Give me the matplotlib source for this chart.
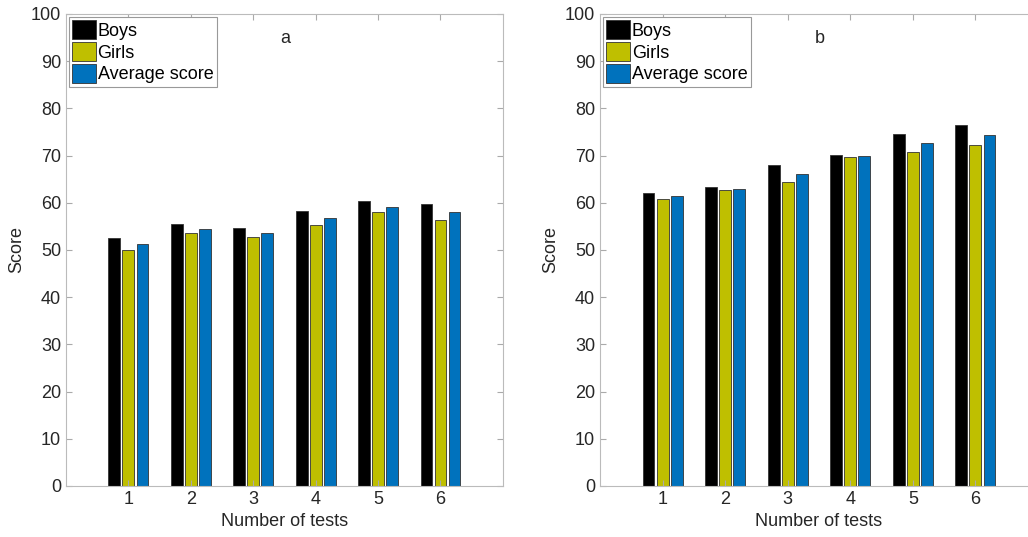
import numpy as np
import matplotlib.pyplot as plt

plt.rcParams['font.family'] = ['Liberation Sans', 'DejaVu Sans']

tests = [1, 2, 3, 4, 5, 6]

# panel a
boys_a = [52.5, 55.4, 54.6, 58.2, 60.3, 59.8]
girls_a = [49.9, 53.7, 52.8, 55.3, 58.0, 56.4]
avg_a = [51.2, 54.5, 53.7, 56.7, 59.1, 58.0]

# panel b
boys_b = [62.0, 63.3, 67.9, 70.2, 74.6, 76.4]
girls_b = [60.9, 62.7, 64.4, 69.6, 70.8, 72.3]
avg_b = [61.4, 63.0, 66.1, 69.9, 72.7, 74.3]

colors = ['#000000', '#BFBF00', '#0072BD']
names = ['Boys', 'Girls', 'Average score']
grey = '#262626'


def draw_panel(ax, series, letter):
    x = np.array(tests)
    offsets = [-0.225, 0, 0.225]
    for vals, off, c, name in zip(series, offsets, colors, names):
        ax.bar(x + off, vals, width=0.19, color=c, edgecolor='#333333',
               linewidth=0.6, label=name)
    ax.set_xlim(0, 7)
    ax.set_ylim(0, 100)
    ax.set_xticks(tests)
    ax.set_yticks(range(0, 101, 10))
    ax.tick_params(direction='in', top=True, right=True, length=4,
                   labelsize=13, colors='#aaaaaa', labelcolor=grey)
    for s in ax.spines.values():
        s.set_color('#bbbbbb')
        s.set_linewidth(0.8)
    ax.set_xlabel('Number of tests', fontsize=13, color=grey)
    ax.set_ylabel('Score', fontsize=13, color=grey)
    ax.text(3.52, 94.8, letter, fontsize=13, ha='center', va='center', color=grey)
    leg = ax.legend(loc='upper left', fontsize=13, frameon=True, fancybox=False,
                    edgecolor='#999999', framealpha=1, borderaxespad=0.15,
                    handlelength=1.3, handleheight=1.25, handletextpad=0.1,
                    labelspacing=0.12, borderpad=0.2)
    leg.get_frame().set_linewidth(0.8)


fig = plt.figure(figsize=(10.28, 5.37), dpi=100)
ax1 = fig.add_axes([0.0642, 0.095, 0.425, 0.879])
ax2 = fig.add_axes([0.5837, 0.095, 0.426, 0.879])

draw_panel(ax1, [boys_a, girls_a, avg_a], 'a')
draw_panel(ax2, [boys_b, girls_b, avg_b], 'b')

fig.savefig('out.png', dpi=100)
